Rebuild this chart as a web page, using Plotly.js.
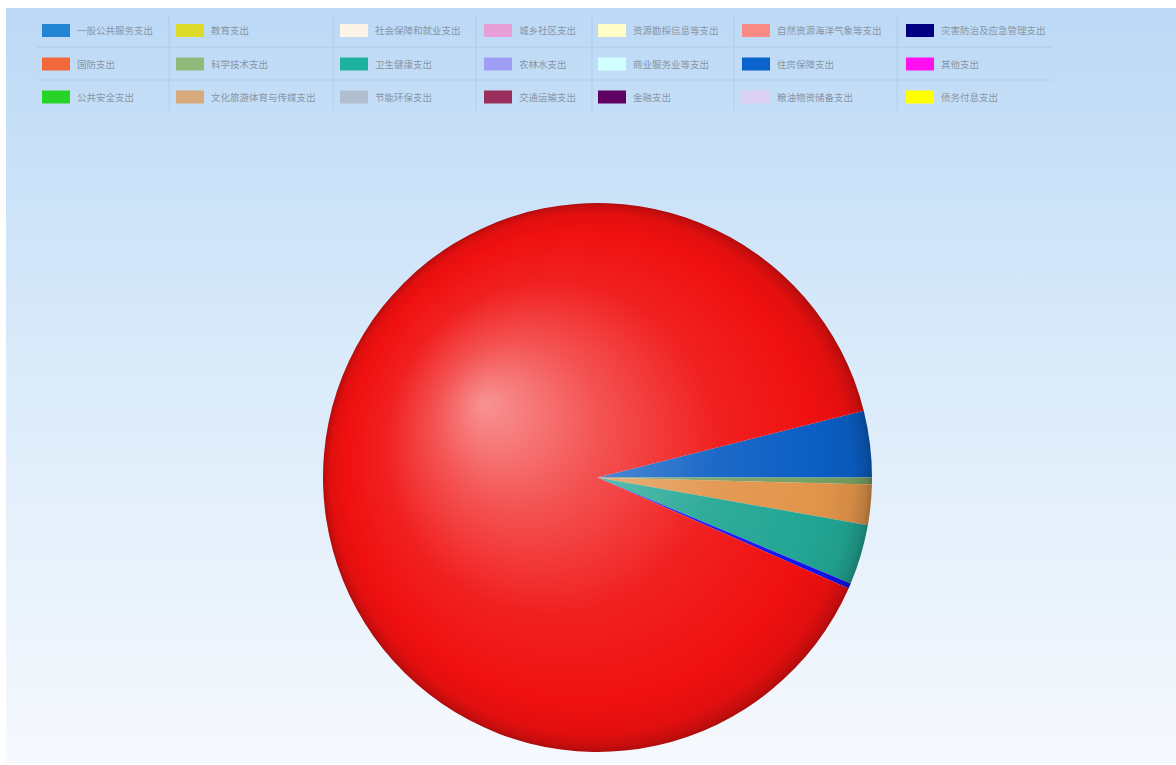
<!DOCTYPE html>
<html>
<head>
<meta charset="utf-8">
<script src="https://cdn.plot.ly/plotly-3.0.1.min.js"></script>
<style>
  html, body { margin: 0; padding: 0; background: #ffffff; }
  #chart {
    position: absolute; left: 6px; top: 8px; width: 1170px; height: 755px;
    background: linear-gradient(to bottom, #bcd9f6 0%, #d9eafa 45%, #f6f9fd 100%);
  }
</style>
</head>
<body>
<div id="chart"></div>
<script>
// ---- legend categories (standard order, laid out 3 rows x 7 columns, column-major) ----
const legendLabels = [
  '一般公共服务支出', '国防支出', '公共安全支出',
  '教育支出', '科学技术支出', '文化旅游体育与传媒支出',
  '社会保障和就业支出', '卫生健康支出', '节能环保支出',
  '城乡社区支出', '农林水支出', '交通运输支出',
  '资源勘探信息等支出', '商业服务业等支出', '金融支出',
  '自然资源海洋气象等支出', '住房保障支出', '粮油物资储备支出',
  '灾害防治及应急管理支出', '其他支出', '债务付息支出'
];
const legendColors = [
  '#2385d4', '#f2683a', '#27d327',
  '#dcdc28', '#8fba7a', '#d8a97a',
  '#fdf3e6', '#20b2a0', '#b2bfd0',
  '#e89ed6', '#9f9ff5', '#9a2e5c',
  '#fffdc8', '#d2ffff', '#600060',
  '#fa8a84', '#0a62cc', '#dcd0f5',
  '#020080', '#ff10f0', '#ffff00'
];
// legend column widths in px (swatch start to next swatch start)
const columnWidths = [134, 164, 144, 114, 144, 164, 146];

// ---- pie slices (clockwise from the top edge of the first slice) ----
const pieLabels = ['住房保障支出', '科学技术支出', '文化旅游体育与传媒支出', '卫生健康支出', '灾害防治及应急管理支出', '其他'];
const pieValues = [3.91, 0.40, 2.38, 3.53, 0.31, 89.47];
const pieColors = ['#0b5ec4', '#76a062', '#e2944a', '#22a694', '#1414ee', '#f01010'];

const W = 1170, H = 755;
const px = x => (x - 6) / W;          // page x -> paper x
const py = y => 1 - (y - 8) / H;      // page y -> paper y

const traces = [];
traces.push({
  type: 'pie',
  labels: pieLabels,
  values: pieValues,
  sort: false,
  direction: 'clockwise',
  rotation: 75.93,
  textinfo: 'none',
  hoverinfo: 'label+percent',
  marker: { colors: pieColors, line: { width: 0 } },
  showlegend: false,
  domain: { x: [px(597.5) - 0.3, px(597.5) + 0.3], y: [py(752), py(203)] }
});

legendLabels.forEach((lab, i) => {
  const row = i % 3, col = Math.floor(i / 3);
  traces.push({
    type: 'scatter', mode: 'lines',
    x: [null], y: [null],
    name: lab,
    line: { color: legendColors[i], width: 13 },
    legend: row === 0 ? 'legend' : 'legend' + (row + 1),
    legendwidth: columnWidths[col] - 45,
    hoverinfo: 'skip',
    xaxis: 'x', yaxis: 'y'
  });
});

const rowCenters = [30.5, 64, 97];
const legendBase = {
  orientation: 'h', x: px(37), xanchor: 'left', yanchor: 'middle',
  bgcolor: 'rgba(0,0,0,0)', borderwidth: 0,
  font: { family: 'Noto Sans CJK SC, sans-serif', size: 9.5, color: '#8795a5' },
  itemclick: false, itemdoubleclick: false
};

const shapes = [];
const lineCol = 'rgba(140,165,195,0.25)';
[47, 80].forEach(y => shapes.push({
  type: 'line', xref: 'paper', yref: 'paper',
  x0: px(37), x1: px(1052), y0: py(y), y1: py(y),
  line: { color: lineCol, width: 1 }
}));
[169, 333, 476, 592, 734, 897].forEach(x => shapes.push({
  type: 'line', xref: 'paper', yref: 'paper',
  x0: px(x), x1: px(x), y0: py(16), y1: py(111),
  line: { color: lineCol, width: 1 }
}));

const layout = {
  width: W, height: H,
  margin: { l: 0, r: 0, t: 0, b: 0 },
  paper_bgcolor: 'rgba(0,0,0,0)',
  plot_bgcolor: 'rgba(0,0,0,0)',
  xaxis: { visible: false, domain: [0, 0.01] },
  yaxis: { visible: false, domain: [0, 0.01] },
  showlegend: true,
  legend: Object.assign({}, legendBase, { y: py(rowCenters[0]) }),
  legend2: Object.assign({}, legendBase, { y: py(rowCenters[1]) }),
  legend3: Object.assign({}, legendBase, { y: py(rowCenters[2]) }),
  shapes: shapes,
  font: { family: 'Noto Sans CJK SC, sans-serif' }
};

function mix(hex, t) {
  const n = parseInt(hex.slice(1), 16);
  let r = (n >> 16) & 255, g = (n >> 8) & 255, b = n & 255;
  const f = v => t >= 0 ? Math.round(v + (255 - v) * t) : Math.round(v * (1 + t));
  return 'rgb(' + f(r) + ',' + f(g) + ',' + f(b) + ')';
}

const gd = document.getElementById('chart');
Plotly.newPlot(gd, traces, layout, { displayModeBar: false, staticPlot: true }).then(() => {
  // legend swatches: 28 x 13 blocks like the reference (all three legends)
  gd.querySelectorAll('.legendlines path').forEach(p => {
    p.setAttribute('d', 'M5,0h28');
    p.style.strokeWidth = '13px';
  });
  // 3D-like radial shading of the pie slices
  const cd0 = gd.calcdata[0][0];
  const cx = cd0.cx, cy = cd0.cy, r = cd0.r;
  const svg = gd.querySelector('svg.main-svg');
  const NS = 'http://www.w3.org/2000/svg';
  let defs = svg.querySelector('defs');
  if (!defs) { defs = document.createElementNS(NS, 'defs'); svg.insertBefore(defs, svg.firstChild); }
  const stops = [[0, 0.55], [0.3, 0.28], [0.6, 0.07], [0.86, 0], [0.95, -0.06], [0.985, -0.17], [1, -0.28]];
  pieColors.forEach((c, i) => {
    const g = document.createElementNS(NS, 'radialGradient');
    g.setAttribute('id', 'pieg' + i);
    g.setAttribute('gradientUnits', 'userSpaceOnUse');
    g.setAttribute('cx', cx); g.setAttribute('cy', cy); g.setAttribute('r', r);
    g.setAttribute('fx', cx - 0.417 * r); g.setAttribute('fy', cy - 0.271 * r);
    stops.forEach(s => {
      const st = document.createElementNS(NS, 'stop');
      st.setAttribute('offset', s[0]);
      st.setAttribute('stop-color', mix(c, s[1]));
      g.appendChild(st);
    });
    defs.appendChild(g);
  });
  gd.querySelectorAll('.pielayer .slice').forEach((s, i) => {
    const p = s.querySelector('path.surface');
    const idx = s.__data__ && s.__data__.i !== undefined ? s.__data__.i : i;
    if (p) p.style.fill = 'url(#pieg' + idx + ')';
  });
});
</script>
</body>
</html>
